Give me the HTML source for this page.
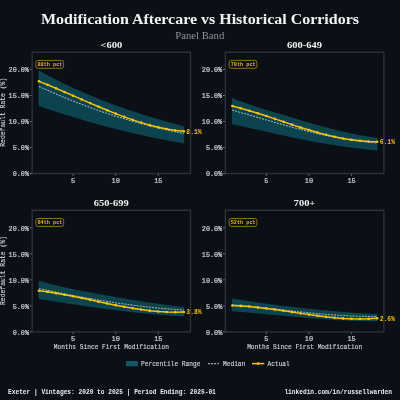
<!DOCTYPE html>
<html><head><meta charset="utf-8"><style>
html,body{margin:0;padding:0;background:#0b0f16;width:400px;height:400px;overflow:hidden}
svg{display:block;will-change:transform}
.mono{font-family:"Liberation Mono",monospace}
.serif{font-family:"Liberation Serif",serif}
</style></head><body>
<svg width="400" height="400" viewBox="0 0 400 400">
<rect width="400" height="400" fill="#0b0f16"/>
<text class="serif" x="200" y="23.75" text-anchor="middle" font-size="14.2" font-weight="bold" fill="#f3f3f1" textLength="318" lengthAdjust="spacingAndGlyphs">Modification Aftercare vs Historical Corridors</text>
<text class="serif" x="199.8" y="38.5" text-anchor="middle" font-size="10" fill="#8f9296" textLength="49" lengthAdjust="spacingAndGlyphs">Panel Band</text>

<text class="serif" x="111.35" y="48.10" text-anchor="middle" font-size="9.2" font-weight="bold" fill="#f3f3f1" textLength="21.7" lengthAdjust="spacingAndGlyphs">&lt;600</text>
<polygon points="39.00,71.00 41.13,72.17 43.26,73.33 45.39,74.47 47.52,75.60 49.65,76.72 51.78,77.83 53.91,78.92 56.04,80.01 58.17,81.08 60.30,82.13 62.43,83.18 64.56,84.21 66.69,85.23 68.82,86.24 70.95,87.24 73.08,88.23 75.21,89.20 77.34,90.17 79.47,91.12 81.60,92.06 83.73,93.00 85.86,93.92 87.99,94.83 90.12,95.73 92.25,96.61 94.38,97.49 96.51,98.36 98.64,99.22 100.77,100.07 102.90,100.91 105.03,101.74 107.16,102.56 109.29,103.37 111.42,104.17 113.55,104.96 115.68,105.74 117.81,106.52 119.94,107.28 122.07,108.04 124.20,108.79 126.33,109.53 128.46,110.26 130.59,110.98 132.72,111.69 134.85,112.40 136.98,113.10 139.11,113.79 141.24,114.47 143.37,115.15 145.50,115.82 147.63,116.48 149.76,117.13 151.89,117.78 154.02,118.42 156.15,119.05 158.28,119.68 160.41,120.30 162.54,120.91 164.67,121.52 166.80,122.12 168.93,122.72 171.06,123.31 173.19,123.89 175.32,124.47 177.45,125.04 179.58,125.61 181.71,126.17 183.84,126.72 183.84,142.94 181.71,142.57 179.58,142.20 177.45,141.82 175.32,141.44 173.19,141.05 171.06,140.66 168.93,140.26 166.80,139.86 164.67,139.45 162.54,139.04 160.41,138.62 158.28,138.19 156.15,137.76 154.02,137.32 151.89,136.88 149.76,136.43 147.63,135.98 145.50,135.52 143.37,135.06 141.24,134.59 139.11,134.11 136.98,133.63 134.85,133.15 132.72,132.66 130.59,132.16 128.46,131.66 126.33,131.15 124.20,130.64 122.07,130.12 119.94,129.59 117.81,129.06 115.68,128.53 113.55,127.99 111.42,127.44 109.29,126.89 107.16,126.33 105.03,125.77 102.90,125.20 100.77,124.63 98.64,124.05 96.51,123.47 94.38,122.87 92.25,122.28 90.12,121.68 87.99,121.07 85.86,120.46 83.73,119.84 81.60,119.22 79.47,118.59 77.34,117.95 75.21,117.31 73.08,116.67 70.95,116.02 68.82,115.36 66.69,114.70 64.56,114.03 62.43,113.36 60.30,112.68 58.17,112.00 56.04,111.31 53.91,110.61 51.78,109.91 49.65,109.20 47.52,108.49 45.39,107.77 43.26,107.05 41.13,106.32 39.00,105.59" fill="#0c434e" stroke="#11535e" stroke-width="0.6"/>
<polyline points="39.00,86.42 41.13,87.40 43.26,88.37 45.39,89.33 47.52,90.28 49.65,91.23 51.78,92.16 53.91,93.09 56.04,94.01 58.17,94.91 60.30,95.81 62.43,96.70 64.56,97.59 66.69,98.46 68.82,99.32 70.95,100.18 73.08,101.03 75.21,101.87 77.34,102.70 79.47,103.52 81.60,104.33 83.73,105.13 85.86,105.93 87.99,106.72 90.12,107.49 92.25,108.26 94.38,109.03 96.51,109.78 98.64,110.52 100.77,111.26 102.90,111.99 105.03,112.70 107.16,113.42 109.29,114.12 111.42,114.81 113.55,115.50 115.68,116.17 117.81,116.84 119.94,117.50 122.07,118.16 124.20,118.80 126.33,119.44 128.46,120.07 130.59,120.69 132.72,121.30 134.85,121.90 136.98,122.50 139.11,123.08 141.24,123.66 143.37,124.23 145.50,124.80 147.63,125.35 149.76,125.90 151.89,126.44 154.02,126.97 156.15,127.49 158.28,128.01 160.41,128.52 162.54,129.02 164.67,129.51 166.80,129.99 168.93,130.47 171.06,130.94 173.19,131.40 175.32,131.85 177.45,132.30 179.58,132.74 181.71,133.17 183.84,133.59" fill="none" stroke="#c9d1d9" stroke-opacity="0.8" stroke-width="1.05" stroke-dasharray="1.9 1.2"/>
<polyline points="39.00,81.36 47.52,84.78 56.04,88.33 64.56,91.98 73.08,95.68 81.60,99.39 90.12,103.08 98.64,106.71 107.16,110.25 115.68,113.65 124.20,116.87 132.72,119.88 141.24,122.64 149.76,125.12 158.28,127.26 166.80,129.05 175.32,130.43 183.84,131.37" fill="none" stroke="#f7c20a" stroke-width="1.5" stroke-linejoin="round"/>
<circle cx="39.00" cy="81.36" r="1.3" fill="#f7c20a"/>
<circle cx="47.52" cy="84.78" r="1.3" fill="#f7c20a"/>
<circle cx="56.04" cy="88.33" r="1.3" fill="#f7c20a"/>
<circle cx="64.56" cy="91.98" r="1.3" fill="#f7c20a"/>
<circle cx="73.08" cy="95.68" r="1.3" fill="#f7c20a"/>
<circle cx="81.60" cy="99.39" r="1.3" fill="#f7c20a"/>
<circle cx="90.12" cy="103.08" r="1.3" fill="#f7c20a"/>
<circle cx="98.64" cy="106.71" r="1.3" fill="#f7c20a"/>
<circle cx="107.16" cy="110.25" r="1.3" fill="#f7c20a"/>
<circle cx="115.68" cy="113.65" r="1.3" fill="#f7c20a"/>
<circle cx="124.20" cy="116.87" r="1.3" fill="#f7c20a"/>
<circle cx="132.72" cy="119.88" r="1.3" fill="#f7c20a"/>
<circle cx="141.24" cy="122.64" r="1.3" fill="#f7c20a"/>
<circle cx="149.76" cy="125.12" r="1.3" fill="#f7c20a"/>
<circle cx="158.28" cy="127.26" r="1.3" fill="#f7c20a"/>
<circle cx="166.80" cy="129.05" r="1.3" fill="#f7c20a"/>
<circle cx="175.32" cy="130.43" r="1.3" fill="#f7c20a"/>
<circle cx="183.84" cy="131.37" r="1.3" fill="#f7c20a"/>
<text class="mono" transform="translate(186.34,133.67) scale(1,1.1)" font-size="6.4" fill="#f7c20a" font-weight="bold">8.1%</text>
<rect x="32.15" y="52.20" width="158.35" height="121.30" fill="none" stroke="#2e3239" stroke-width="1.4"/>
<line x1="29.75" y1="173.50" x2="31.65" y2="173.50" stroke="#7d828b" stroke-width="0.9"/>
<text class="mono" transform="translate(28.95,176.40) scale(1,1.1)" font-size="6.8" fill="#cdd0d4" text-anchor="end" stroke="#cdd0d4" stroke-width="0.2">0.0%</text>
<line x1="29.75" y1="147.47" x2="31.65" y2="147.47" stroke="#7d828b" stroke-width="0.9"/>
<text class="mono" transform="translate(28.95,150.38) scale(1,1.1)" font-size="6.8" fill="#cdd0d4" text-anchor="end" stroke="#cdd0d4" stroke-width="0.2">5.0%</text>
<line x1="29.75" y1="121.45" x2="31.65" y2="121.45" stroke="#7d828b" stroke-width="0.9"/>
<text class="mono" transform="translate(28.95,124.35) scale(1,1.1)" font-size="6.8" fill="#cdd0d4" text-anchor="end" stroke="#cdd0d4" stroke-width="0.2">10.0%</text>
<line x1="29.75" y1="95.42" x2="31.65" y2="95.42" stroke="#7d828b" stroke-width="0.9"/>
<text class="mono" transform="translate(28.95,98.33) scale(1,1.1)" font-size="6.8" fill="#cdd0d4" text-anchor="end" stroke="#cdd0d4" stroke-width="0.2">15.0%</text>
<line x1="29.75" y1="69.40" x2="31.65" y2="69.40" stroke="#7d828b" stroke-width="0.9"/>
<text class="mono" transform="translate(28.95,72.30) scale(1,1.1)" font-size="6.8" fill="#cdd0d4" text-anchor="end" stroke="#cdd0d4" stroke-width="0.2">20.0%</text>
<line x1="73.08" y1="174.00" x2="73.08" y2="175.70" stroke="#7d828b" stroke-width="0.9"/>
<text class="mono" transform="translate(73.08,182.50) scale(1,1.1)" font-size="6.9" fill="#cdd0d4" text-anchor="middle" stroke="#cdd0d4" stroke-width="0.2">5</text>
<line x1="115.68" y1="174.00" x2="115.68" y2="175.70" stroke="#7d828b" stroke-width="0.9"/>
<text class="mono" transform="translate(115.68,182.50) scale(1,1.1)" font-size="6.9" fill="#cdd0d4" text-anchor="middle" stroke="#cdd0d4" stroke-width="0.2">10</text>
<line x1="158.28" y1="174.00" x2="158.28" y2="175.70" stroke="#7d828b" stroke-width="0.9"/>
<text class="mono" transform="translate(158.28,182.50) scale(1,1.1)" font-size="6.9" fill="#cdd0d4" text-anchor="middle" stroke="#cdd0d4" stroke-width="0.2">15</text>
<rect x="35.85" y="60.40" width="27.8" height="7.9" rx="2.1" fill="#0b0f16" stroke="#a88510" stroke-width="0.85"/>
<text class="mono" transform="translate(49.95,66.20) scale(1,1.1)" font-size="5.25" fill="#e8b420" text-anchor="middle" font-weight="bold">88th pct</text>
<text class="mono" transform="translate(5.20,112.25) rotate(-90) scale(1,1.1)" font-size="6.4" fill="#cdd0d4" text-anchor="middle" stroke="#cdd0d4" stroke-width="0.12">Redefault Rate (%)</text>
<text class="serif" x="304.40" y="48.10" text-anchor="middle" font-size="9.2" font-weight="bold" fill="#f3f3f1" textLength="35" lengthAdjust="spacingAndGlyphs">600-649</text>
<polygon points="232.30,98.40 234.43,99.29 236.56,100.15 238.69,100.99 240.82,101.80 242.95,102.60 245.08,103.37 247.21,104.12 249.34,104.85 251.47,105.57 253.60,106.27 255.73,106.96 257.86,107.64 259.99,108.31 262.12,108.97 264.25,109.62 266.38,110.27 268.51,110.91 270.64,111.55 272.77,112.19 274.90,112.83 277.03,113.46 279.16,114.10 281.29,114.73 283.42,115.37 285.55,116.01 287.68,116.65 289.81,117.30 291.94,117.94 294.07,118.58 296.20,119.22 298.33,119.86 300.46,120.50 302.59,121.14 304.72,121.77 306.85,122.40 308.98,123.02 311.11,123.64 313.24,124.25 315.37,124.86 317.50,125.46 319.63,126.06 321.76,126.64 323.89,127.22 326.02,127.79 328.15,128.35 330.28,128.90 332.41,129.45 334.54,129.98 336.67,130.51 338.80,131.02 340.93,131.53 343.06,132.03 345.19,132.51 347.32,132.99 349.45,133.45 351.58,133.90 353.71,134.34 355.84,134.77 357.97,135.19 360.10,135.59 362.23,135.99 364.36,136.37 366.49,136.73 368.62,137.09 370.75,137.43 372.88,137.75 375.01,138.06 377.14,138.36 377.14,150.15 375.01,149.93 372.88,149.71 370.75,149.48 368.62,149.25 366.49,149.01 364.36,148.77 362.23,148.53 360.10,148.28 357.97,148.02 355.84,147.76 353.71,147.49 351.58,147.22 349.45,146.94 347.32,146.66 345.19,146.37 343.06,146.07 340.93,145.77 338.80,145.46 336.67,145.15 334.54,144.82 332.41,144.50 330.28,144.16 328.15,143.82 326.02,143.47 323.89,143.11 321.76,142.75 319.63,142.37 317.50,142.00 315.37,141.61 313.24,141.21 311.11,140.81 308.98,140.40 306.85,139.99 304.72,139.57 302.59,139.14 300.46,138.71 298.33,138.27 296.20,137.82 294.07,137.38 291.94,136.92 289.81,136.47 287.68,136.01 285.55,135.55 283.42,135.08 281.29,134.61 279.16,134.14 277.03,133.67 274.90,133.19 272.77,132.72 270.64,132.24 268.51,131.76 266.38,131.28 264.25,130.80 262.12,130.33 259.99,129.85 257.86,129.37 255.73,128.89 253.60,128.42 251.47,127.95 249.34,127.48 247.21,127.01 245.08,126.54 242.95,126.08 240.82,125.62 238.69,125.16 236.56,124.71 234.43,124.26 232.30,123.82" fill="#0c434e" stroke="#11535e" stroke-width="0.6"/>
<polyline points="232.30,110.11 234.43,110.71 236.56,111.31 238.69,111.92 240.82,112.53 242.95,113.14 245.08,113.75 247.21,114.37 249.34,114.99 251.47,115.60 253.60,116.22 255.73,116.84 257.86,117.46 259.99,118.08 262.12,118.70 264.25,119.32 266.38,119.94 268.51,120.55 270.64,121.17 272.77,121.78 274.90,122.39 277.03,123.00 279.16,123.60 281.29,124.20 283.42,124.80 285.55,125.39 287.68,125.98 289.81,126.57 291.94,127.15 294.07,127.72 296.20,128.29 298.33,128.86 300.46,129.42 302.59,129.97 304.72,130.51 306.85,131.05 308.98,131.58 311.11,132.11 313.24,132.62 315.37,133.13 317.50,133.63 319.63,134.12 321.76,134.60 323.89,135.07 326.02,135.53 328.15,135.98 330.28,136.43 332.41,136.86 334.54,137.28 336.67,137.68 338.80,138.08 340.93,138.46 343.06,138.84 345.19,139.20 347.32,139.54 349.45,139.88 351.58,140.20 353.71,140.50 355.84,140.80 357.97,141.07 360.10,141.34 362.23,141.58 364.36,141.82 366.49,142.03 368.62,142.23 370.75,142.42 372.88,142.59 375.01,142.74 377.14,142.87" fill="none" stroke="#c9d1d9" stroke-opacity="0.8" stroke-width="1.05" stroke-dasharray="1.9 1.2"/>
<polyline points="232.30,106.10 240.82,108.27 249.34,110.69 257.86,113.30 266.38,116.06 274.90,118.90 283.42,121.78 291.94,124.64 300.46,127.42 308.98,130.07 317.50,132.54 326.02,134.77 334.54,136.74 343.06,138.43 351.58,139.80 360.10,140.84 368.62,141.52 377.14,141.81" fill="none" stroke="#f7c20a" stroke-width="1.5" stroke-linejoin="round"/>
<circle cx="232.30" cy="106.10" r="1.3" fill="#f7c20a"/>
<circle cx="240.82" cy="108.27" r="1.3" fill="#f7c20a"/>
<circle cx="249.34" cy="110.69" r="1.3" fill="#f7c20a"/>
<circle cx="257.86" cy="113.30" r="1.3" fill="#f7c20a"/>
<circle cx="266.38" cy="116.06" r="1.3" fill="#f7c20a"/>
<circle cx="274.90" cy="118.90" r="1.3" fill="#f7c20a"/>
<circle cx="283.42" cy="121.78" r="1.3" fill="#f7c20a"/>
<circle cx="291.94" cy="124.64" r="1.3" fill="#f7c20a"/>
<circle cx="300.46" cy="127.42" r="1.3" fill="#f7c20a"/>
<circle cx="308.98" cy="130.07" r="1.3" fill="#f7c20a"/>
<circle cx="317.50" cy="132.54" r="1.3" fill="#f7c20a"/>
<circle cx="326.02" cy="134.77" r="1.3" fill="#f7c20a"/>
<circle cx="334.54" cy="136.74" r="1.3" fill="#f7c20a"/>
<circle cx="343.06" cy="138.43" r="1.3" fill="#f7c20a"/>
<circle cx="351.58" cy="139.80" r="1.3" fill="#f7c20a"/>
<circle cx="360.10" cy="140.84" r="1.3" fill="#f7c20a"/>
<circle cx="368.62" cy="141.52" r="1.3" fill="#f7c20a"/>
<circle cx="377.14" cy="141.81" r="1.3" fill="#f7c20a"/>
<text class="mono" transform="translate(379.64,144.11) scale(1,1.1)" font-size="6.4" fill="#f7c20a" font-weight="bold">6.1%</text>
<rect x="225.40" y="52.20" width="158.50" height="121.30" fill="none" stroke="#2e3239" stroke-width="1.4"/>
<line x1="223.00" y1="173.50" x2="224.90" y2="173.50" stroke="#7d828b" stroke-width="0.9"/>
<text class="mono" transform="translate(222.20,176.40) scale(1,1.1)" font-size="6.8" fill="#cdd0d4" text-anchor="end" stroke="#cdd0d4" stroke-width="0.2">0.0%</text>
<line x1="223.00" y1="147.47" x2="224.90" y2="147.47" stroke="#7d828b" stroke-width="0.9"/>
<text class="mono" transform="translate(222.20,150.38) scale(1,1.1)" font-size="6.8" fill="#cdd0d4" text-anchor="end" stroke="#cdd0d4" stroke-width="0.2">5.0%</text>
<line x1="223.00" y1="121.45" x2="224.90" y2="121.45" stroke="#7d828b" stroke-width="0.9"/>
<text class="mono" transform="translate(222.20,124.35) scale(1,1.1)" font-size="6.8" fill="#cdd0d4" text-anchor="end" stroke="#cdd0d4" stroke-width="0.2">10.0%</text>
<line x1="223.00" y1="95.42" x2="224.90" y2="95.42" stroke="#7d828b" stroke-width="0.9"/>
<text class="mono" transform="translate(222.20,98.33) scale(1,1.1)" font-size="6.8" fill="#cdd0d4" text-anchor="end" stroke="#cdd0d4" stroke-width="0.2">15.0%</text>
<line x1="223.00" y1="69.40" x2="224.90" y2="69.40" stroke="#7d828b" stroke-width="0.9"/>
<text class="mono" transform="translate(222.20,72.30) scale(1,1.1)" font-size="6.8" fill="#cdd0d4" text-anchor="end" stroke="#cdd0d4" stroke-width="0.2">20.0%</text>
<line x1="266.38" y1="174.00" x2="266.38" y2="175.70" stroke="#7d828b" stroke-width="0.9"/>
<text class="mono" transform="translate(266.38,182.50) scale(1,1.1)" font-size="6.9" fill="#cdd0d4" text-anchor="middle" stroke="#cdd0d4" stroke-width="0.2">5</text>
<line x1="308.98" y1="174.00" x2="308.98" y2="175.70" stroke="#7d828b" stroke-width="0.9"/>
<text class="mono" transform="translate(308.98,182.50) scale(1,1.1)" font-size="6.9" fill="#cdd0d4" text-anchor="middle" stroke="#cdd0d4" stroke-width="0.2">10</text>
<line x1="351.58" y1="174.00" x2="351.58" y2="175.70" stroke="#7d828b" stroke-width="0.9"/>
<text class="mono" transform="translate(351.58,182.50) scale(1,1.1)" font-size="6.9" fill="#cdd0d4" text-anchor="middle" stroke="#cdd0d4" stroke-width="0.2">15</text>
<rect x="229.10" y="60.40" width="27.8" height="7.9" rx="2.1" fill="#0b0f16" stroke="#a88510" stroke-width="0.85"/>
<text class="mono" transform="translate(243.20,66.20) scale(1,1.1)" font-size="5.25" fill="#e8b420" text-anchor="middle" font-weight="bold">79th pct</text>
<text class="serif" x="111.25" y="206.20" text-anchor="middle" font-size="9.2" font-weight="bold" fill="#f3f3f1" textLength="34.9" lengthAdjust="spacingAndGlyphs">650-699</text>
<polygon points="39.00,281.12 41.13,281.76 43.26,282.38 45.39,282.98 47.52,283.56 49.65,284.13 51.78,284.69 53.91,285.22 56.04,285.75 58.17,286.26 60.30,286.76 62.43,287.25 64.56,287.72 66.69,288.19 68.82,288.65 70.95,289.09 73.08,289.53 75.21,289.97 77.34,290.39 79.47,290.81 81.60,291.23 83.73,291.64 85.86,292.04 87.99,292.44 90.12,292.85 92.25,293.24 94.38,293.64 96.51,294.04 98.64,294.43 100.77,294.82 102.90,295.21 105.03,295.60 107.16,295.98 109.29,296.36 111.42,296.74 113.55,297.12 115.68,297.49 117.81,297.86 119.94,298.23 122.07,298.60 124.20,298.96 126.33,299.32 128.46,299.67 130.59,300.02 132.72,300.37 134.85,300.72 136.98,301.06 139.11,301.40 141.24,301.73 143.37,302.06 145.50,302.38 147.63,302.71 149.76,303.02 151.89,303.33 154.02,303.64 156.15,303.95 158.28,304.24 160.41,304.54 162.54,304.83 164.67,305.11 166.80,305.39 168.93,305.67 171.06,305.94 173.19,306.20 175.32,306.46 177.45,306.71 179.58,306.96 181.71,307.20 183.84,307.44 183.84,316.01 181.71,315.90 179.58,315.78 177.45,315.65 175.32,315.51 173.19,315.38 171.06,315.23 168.93,315.08 166.80,314.93 164.67,314.77 162.54,314.60 160.41,314.43 158.28,314.25 156.15,314.07 154.02,313.89 151.89,313.70 149.76,313.50 147.63,313.30 145.50,313.10 143.37,312.89 141.24,312.68 139.11,312.46 136.98,312.24 134.85,312.01 132.72,311.78 130.59,311.54 128.46,311.31 126.33,311.06 124.20,310.82 122.07,310.57 119.94,310.31 117.81,310.05 115.68,309.79 113.55,309.53 111.42,309.26 109.29,308.99 107.16,308.71 105.03,308.43 102.90,308.15 100.77,307.86 98.64,307.58 96.51,307.28 94.38,306.99 92.25,306.69 90.12,306.39 87.99,306.09 85.86,305.78 83.73,305.48 81.60,305.17 79.47,304.85 77.34,304.54 75.21,304.22 73.08,303.90 70.95,303.58 68.82,303.25 66.69,302.92 64.56,302.60 62.43,302.26 60.30,301.93 58.17,301.60 56.04,301.26 53.91,300.92 51.78,300.59 49.65,300.24 47.52,299.90 45.39,299.56 43.26,299.21 41.13,298.87 39.00,298.52" fill="#0c434e" stroke="#11535e" stroke-width="0.6"/>
<polyline points="39.00,288.70 41.13,289.14 43.26,289.58 45.39,290.01 47.52,290.45 49.65,290.88 51.78,291.31 53.91,291.74 56.04,292.17 58.17,292.59 60.30,293.01 62.43,293.43 64.56,293.85 66.69,294.26 68.82,294.67 70.95,295.08 73.08,295.48 75.21,295.88 77.34,296.28 79.47,296.67 81.60,297.07 83.73,297.45 85.86,297.84 87.99,298.22 90.12,298.59 92.25,298.96 94.38,299.33 96.51,299.70 98.64,300.06 100.77,300.41 102.90,300.76 105.03,301.11 107.16,301.45 109.29,301.79 111.42,302.12 113.55,302.45 115.68,302.77 117.81,303.09 119.94,303.40 122.07,303.71 124.20,304.01 126.33,304.31 128.46,304.60 130.59,304.89 132.72,305.17 134.85,305.45 136.98,305.71 139.11,305.98 141.24,306.23 143.37,306.49 145.50,306.73 147.63,306.97 149.76,307.20 151.89,307.43 154.02,307.65 156.15,307.86 158.28,308.07 160.41,308.27 162.54,308.46 164.67,308.64 166.80,308.82 168.93,308.99 171.06,309.16 173.19,309.31 175.32,309.46 177.45,309.60 179.58,309.74 181.71,309.86 183.84,309.98" fill="none" stroke="#c9d1d9" stroke-opacity="0.8" stroke-width="1.05" stroke-dasharray="1.9 1.2"/>
<polyline points="39.00,290.75 47.52,291.86 56.04,293.19 64.56,294.69 73.08,296.32 81.60,298.06 90.12,299.85 98.64,301.66 107.16,303.44 115.68,305.16 124.20,306.79 132.72,308.27 141.24,309.56 149.76,310.64 158.28,311.46 166.80,311.98 175.32,312.15 183.84,311.95" fill="none" stroke="#f7c20a" stroke-width="1.5" stroke-linejoin="round"/>
<circle cx="39.00" cy="290.75" r="1.3" fill="#f7c20a"/>
<circle cx="47.52" cy="291.86" r="1.3" fill="#f7c20a"/>
<circle cx="56.04" cy="293.19" r="1.3" fill="#f7c20a"/>
<circle cx="64.56" cy="294.69" r="1.3" fill="#f7c20a"/>
<circle cx="73.08" cy="296.32" r="1.3" fill="#f7c20a"/>
<circle cx="81.60" cy="298.06" r="1.3" fill="#f7c20a"/>
<circle cx="90.12" cy="299.85" r="1.3" fill="#f7c20a"/>
<circle cx="98.64" cy="301.66" r="1.3" fill="#f7c20a"/>
<circle cx="107.16" cy="303.44" r="1.3" fill="#f7c20a"/>
<circle cx="115.68" cy="305.16" r="1.3" fill="#f7c20a"/>
<circle cx="124.20" cy="306.79" r="1.3" fill="#f7c20a"/>
<circle cx="132.72" cy="308.27" r="1.3" fill="#f7c20a"/>
<circle cx="141.24" cy="309.56" r="1.3" fill="#f7c20a"/>
<circle cx="149.76" cy="310.64" r="1.3" fill="#f7c20a"/>
<circle cx="158.28" cy="311.46" r="1.3" fill="#f7c20a"/>
<circle cx="166.80" cy="311.98" r="1.3" fill="#f7c20a"/>
<circle cx="175.32" cy="312.15" r="1.3" fill="#f7c20a"/>
<circle cx="183.84" cy="311.95" r="1.3" fill="#f7c20a"/>
<text class="mono" transform="translate(186.34,314.25) scale(1,1.1)" font-size="6.4" fill="#f7c20a" font-weight="bold">3.8%</text>
<rect x="32.15" y="210.30" width="158.35" height="121.60" fill="none" stroke="#2e3239" stroke-width="1.4"/>
<line x1="29.75" y1="331.90" x2="31.65" y2="331.90" stroke="#7d828b" stroke-width="0.9"/>
<text class="mono" transform="translate(28.95,334.80) scale(1,1.1)" font-size="6.8" fill="#cdd0d4" text-anchor="end" stroke="#cdd0d4" stroke-width="0.2">0.0%</text>
<line x1="29.75" y1="305.88" x2="31.65" y2="305.88" stroke="#7d828b" stroke-width="0.9"/>
<text class="mono" transform="translate(28.95,308.77) scale(1,1.1)" font-size="6.8" fill="#cdd0d4" text-anchor="end" stroke="#cdd0d4" stroke-width="0.2">5.0%</text>
<line x1="29.75" y1="279.85" x2="31.65" y2="279.85" stroke="#7d828b" stroke-width="0.9"/>
<text class="mono" transform="translate(28.95,282.75) scale(1,1.1)" font-size="6.8" fill="#cdd0d4" text-anchor="end" stroke="#cdd0d4" stroke-width="0.2">10.0%</text>
<line x1="29.75" y1="253.82" x2="31.65" y2="253.82" stroke="#7d828b" stroke-width="0.9"/>
<text class="mono" transform="translate(28.95,256.72) scale(1,1.1)" font-size="6.8" fill="#cdd0d4" text-anchor="end" stroke="#cdd0d4" stroke-width="0.2">15.0%</text>
<line x1="29.75" y1="227.80" x2="31.65" y2="227.80" stroke="#7d828b" stroke-width="0.9"/>
<text class="mono" transform="translate(28.95,230.70) scale(1,1.1)" font-size="6.8" fill="#cdd0d4" text-anchor="end" stroke="#cdd0d4" stroke-width="0.2">20.0%</text>
<line x1="73.08" y1="332.40" x2="73.08" y2="334.10" stroke="#7d828b" stroke-width="0.9"/>
<text class="mono" transform="translate(73.08,340.90) scale(1,1.1)" font-size="6.9" fill="#cdd0d4" text-anchor="middle" stroke="#cdd0d4" stroke-width="0.2">5</text>
<line x1="115.68" y1="332.40" x2="115.68" y2="334.10" stroke="#7d828b" stroke-width="0.9"/>
<text class="mono" transform="translate(115.68,340.90) scale(1,1.1)" font-size="6.9" fill="#cdd0d4" text-anchor="middle" stroke="#cdd0d4" stroke-width="0.2">10</text>
<line x1="158.28" y1="332.40" x2="158.28" y2="334.10" stroke="#7d828b" stroke-width="0.9"/>
<text class="mono" transform="translate(158.28,340.90) scale(1,1.1)" font-size="6.9" fill="#cdd0d4" text-anchor="middle" stroke="#cdd0d4" stroke-width="0.2">15</text>
<rect x="35.85" y="218.50" width="27.8" height="7.9" rx="2.1" fill="#0b0f16" stroke="#a88510" stroke-width="0.85"/>
<text class="mono" transform="translate(49.95,224.30) scale(1,1.1)" font-size="5.25" fill="#e8b420" text-anchor="middle" font-weight="bold">64th pct</text>
<text class="mono" transform="translate(5.20,270.50) rotate(-90) scale(1,1.1)" font-size="6.4" fill="#cdd0d4" text-anchor="middle" stroke="#cdd0d4" stroke-width="0.12">Redefault Rate (%)</text>
<text class="mono" transform="translate(111.33,348.80) scale(1,1.1)" font-size="6.2" fill="#cdd0d4" text-anchor="middle" stroke="#cdd0d4" stroke-width="0.15">Months Since First Modification</text>
<text class="serif" x="304.50" y="206.20" text-anchor="middle" font-size="9.2" font-weight="bold" fill="#f3f3f1" textLength="21.5" lengthAdjust="spacingAndGlyphs">700+</text>
<polygon points="232.30,299.03 234.43,299.37 236.56,299.71 238.69,300.04 240.82,300.37 242.95,300.70 245.08,301.02 247.21,301.34 249.34,301.66 251.47,301.97 253.60,302.28 255.73,302.59 257.86,302.89 259.99,303.19 262.12,303.48 264.25,303.77 266.38,304.06 268.51,304.35 270.64,304.63 272.77,304.90 274.90,305.18 277.03,305.45 279.16,305.72 281.29,305.98 283.42,306.24 285.55,306.50 287.68,306.76 289.81,307.01 291.94,307.26 294.07,307.50 296.20,307.75 298.33,307.98 300.46,308.22 302.59,308.45 304.72,308.68 306.85,308.91 308.98,309.13 311.11,309.35 313.24,309.57 315.37,309.79 317.50,310.00 319.63,310.20 321.76,310.41 323.89,310.61 326.02,310.81 328.15,311.01 330.28,311.20 332.41,311.39 334.54,311.58 336.67,311.77 338.80,311.95 340.93,312.13 343.06,312.30 345.19,312.48 347.32,312.65 349.45,312.82 351.58,312.98 353.71,313.15 355.84,313.31 357.97,313.46 360.10,313.62 362.23,313.77 364.36,313.92 366.49,314.07 368.62,314.21 370.75,314.35 372.88,314.49 375.01,314.63 377.14,314.76 377.14,321.08 375.01,321.06 372.88,321.03 370.75,321.00 368.62,320.96 366.49,320.92 364.36,320.86 362.23,320.80 360.10,320.74 357.97,320.66 355.84,320.58 353.71,320.50 351.58,320.41 349.45,320.31 347.32,320.20 345.19,320.10 343.06,319.98 340.93,319.86 338.80,319.74 336.67,319.61 334.54,319.48 332.41,319.34 330.28,319.19 328.15,319.05 326.02,318.90 323.89,318.74 321.76,318.59 319.63,318.42 317.50,318.26 315.37,318.09 313.24,317.92 311.11,317.75 308.98,317.57 306.85,317.39 304.72,317.21 302.59,317.02 300.46,316.84 298.33,316.65 296.20,316.46 294.07,316.27 291.94,316.08 289.81,315.89 287.68,315.69 285.55,315.50 283.42,315.30 281.29,315.11 279.16,314.91 277.03,314.71 274.90,314.52 272.77,314.32 270.64,314.13 268.51,313.93 266.38,313.73 264.25,313.54 262.12,313.35 259.99,313.16 257.86,312.96 255.73,312.78 253.60,312.59 251.47,312.40 249.34,312.22 247.21,312.04 245.08,311.86 242.95,311.68 240.82,311.51 238.69,311.34 236.56,311.17 234.43,311.00 232.30,310.84" fill="#0c434e" stroke="#11535e" stroke-width="0.6"/>
<polyline points="232.30,304.83 234.43,305.00 236.56,305.18 238.69,305.37 240.82,305.56 242.95,305.75 245.08,305.95 247.21,306.16 249.34,306.37 251.47,306.58 253.60,306.79 255.73,307.01 257.86,307.23 259.99,307.46 262.12,307.68 264.25,307.91 266.38,308.14 268.51,308.38 270.64,308.61 272.77,308.85 274.90,309.08 277.03,309.32 279.16,309.56 281.29,309.79 283.42,310.03 285.55,310.27 287.68,310.50 289.81,310.74 291.94,310.97 294.07,311.21 296.20,311.44 298.33,311.67 300.46,311.89 302.59,312.12 304.72,312.34 306.85,312.56 308.98,312.78 311.11,312.99 313.24,313.20 315.37,313.40 317.50,313.60 319.63,313.79 321.76,313.99 323.89,314.17 326.02,314.35 328.15,314.52 330.28,314.69 332.41,314.86 334.54,315.01 336.67,315.16 338.80,315.30 340.93,315.44 343.06,315.57 345.19,315.69 347.32,315.80 349.45,315.90 351.58,316.00 353.71,316.08 355.84,316.16 357.97,316.23 360.10,316.29 362.23,316.34 364.36,316.38 366.49,316.40 368.62,316.42 370.75,316.43 372.88,316.42 375.01,316.41 377.14,316.38" fill="none" stroke="#c9d1d9" stroke-opacity="0.8" stroke-width="1.05" stroke-dasharray="1.9 1.2"/>
<polyline points="232.30,305.47 240.82,305.88 249.34,306.54 257.86,307.41 266.38,308.43 274.90,309.58 283.42,310.82 291.94,312.09 300.46,313.37 308.98,314.61 317.50,315.78 326.02,316.82 334.54,317.71 343.06,318.40 351.58,318.85 360.10,319.02 368.62,318.87 377.14,318.36" fill="none" stroke="#f7c20a" stroke-width="1.5" stroke-linejoin="round"/>
<circle cx="232.30" cy="305.47" r="1.3" fill="#f7c20a"/>
<circle cx="240.82" cy="305.88" r="1.3" fill="#f7c20a"/>
<circle cx="249.34" cy="306.54" r="1.3" fill="#f7c20a"/>
<circle cx="257.86" cy="307.41" r="1.3" fill="#f7c20a"/>
<circle cx="266.38" cy="308.43" r="1.3" fill="#f7c20a"/>
<circle cx="274.90" cy="309.58" r="1.3" fill="#f7c20a"/>
<circle cx="283.42" cy="310.82" r="1.3" fill="#f7c20a"/>
<circle cx="291.94" cy="312.09" r="1.3" fill="#f7c20a"/>
<circle cx="300.46" cy="313.37" r="1.3" fill="#f7c20a"/>
<circle cx="308.98" cy="314.61" r="1.3" fill="#f7c20a"/>
<circle cx="317.50" cy="315.78" r="1.3" fill="#f7c20a"/>
<circle cx="326.02" cy="316.82" r="1.3" fill="#f7c20a"/>
<circle cx="334.54" cy="317.71" r="1.3" fill="#f7c20a"/>
<circle cx="343.06" cy="318.40" r="1.3" fill="#f7c20a"/>
<circle cx="351.58" cy="318.85" r="1.3" fill="#f7c20a"/>
<circle cx="360.10" cy="319.02" r="1.3" fill="#f7c20a"/>
<circle cx="368.62" cy="318.87" r="1.3" fill="#f7c20a"/>
<circle cx="377.14" cy="318.36" r="1.3" fill="#f7c20a"/>
<text class="mono" transform="translate(379.64,320.66) scale(1,1.1)" font-size="6.4" fill="#f7c20a" font-weight="bold">2.6%</text>
<rect x="225.40" y="210.30" width="158.50" height="121.60" fill="none" stroke="#2e3239" stroke-width="1.4"/>
<line x1="223.00" y1="331.90" x2="224.90" y2="331.90" stroke="#7d828b" stroke-width="0.9"/>
<text class="mono" transform="translate(222.20,334.80) scale(1,1.1)" font-size="6.8" fill="#cdd0d4" text-anchor="end" stroke="#cdd0d4" stroke-width="0.2">0.0%</text>
<line x1="223.00" y1="305.88" x2="224.90" y2="305.88" stroke="#7d828b" stroke-width="0.9"/>
<text class="mono" transform="translate(222.20,308.77) scale(1,1.1)" font-size="6.8" fill="#cdd0d4" text-anchor="end" stroke="#cdd0d4" stroke-width="0.2">5.0%</text>
<line x1="223.00" y1="279.85" x2="224.90" y2="279.85" stroke="#7d828b" stroke-width="0.9"/>
<text class="mono" transform="translate(222.20,282.75) scale(1,1.1)" font-size="6.8" fill="#cdd0d4" text-anchor="end" stroke="#cdd0d4" stroke-width="0.2">10.0%</text>
<line x1="223.00" y1="253.82" x2="224.90" y2="253.82" stroke="#7d828b" stroke-width="0.9"/>
<text class="mono" transform="translate(222.20,256.72) scale(1,1.1)" font-size="6.8" fill="#cdd0d4" text-anchor="end" stroke="#cdd0d4" stroke-width="0.2">15.0%</text>
<line x1="223.00" y1="227.80" x2="224.90" y2="227.80" stroke="#7d828b" stroke-width="0.9"/>
<text class="mono" transform="translate(222.20,230.70) scale(1,1.1)" font-size="6.8" fill="#cdd0d4" text-anchor="end" stroke="#cdd0d4" stroke-width="0.2">20.0%</text>
<line x1="266.38" y1="332.40" x2="266.38" y2="334.10" stroke="#7d828b" stroke-width="0.9"/>
<text class="mono" transform="translate(266.38,340.90) scale(1,1.1)" font-size="6.9" fill="#cdd0d4" text-anchor="middle" stroke="#cdd0d4" stroke-width="0.2">5</text>
<line x1="308.98" y1="332.40" x2="308.98" y2="334.10" stroke="#7d828b" stroke-width="0.9"/>
<text class="mono" transform="translate(308.98,340.90) scale(1,1.1)" font-size="6.9" fill="#cdd0d4" text-anchor="middle" stroke="#cdd0d4" stroke-width="0.2">10</text>
<line x1="351.58" y1="332.40" x2="351.58" y2="334.10" stroke="#7d828b" stroke-width="0.9"/>
<text class="mono" transform="translate(351.58,340.90) scale(1,1.1)" font-size="6.9" fill="#cdd0d4" text-anchor="middle" stroke="#cdd0d4" stroke-width="0.2">15</text>
<rect x="229.10" y="218.50" width="27.8" height="7.9" rx="2.1" fill="#0b0f16" stroke="#a88510" stroke-width="0.85"/>
<text class="mono" transform="translate(243.20,224.30) scale(1,1.1)" font-size="5.25" fill="#e8b420" text-anchor="middle" font-weight="bold">52th pct</text>
<text class="mono" transform="translate(304.65,348.80) scale(1,1.1)" font-size="6.2" fill="#cdd0d4" text-anchor="middle" stroke="#cdd0d4" stroke-width="0.15">Months Since First Modification</text>
<rect x="126.2" y="361.3" width="11.2" height="4.6" fill="#135763" stroke="#1a6570" stroke-width="0.6"/>
<text class="mono" transform="translate(141.00,365.90) scale(1,1.1)" font-size="6.2" fill="#cdd0d4" stroke="#cdd0d4" stroke-width="0.15">Percentile Range</text>
<line x1="208" y1="363.6" x2="219" y2="363.6" stroke="#c9d1d9" stroke-opacity="0.8" stroke-width="1.05" stroke-dasharray="1.9 1.2"/>
<text class="mono" transform="translate(223.00,365.90) scale(1,1.1)" font-size="6.2" fill="#cdd0d4" stroke="#cdd0d4" stroke-width="0.15">Median</text>
<line x1="252" y1="363.6" x2="264.3" y2="363.6" stroke="#f7c20a" stroke-width="1.5"/>
<circle cx="258.1" cy="363.6" r="1.3" fill="#f7c20a"/>
<text class="mono" transform="translate(267.50,365.90) scale(1,1.1)" font-size="6.2" fill="#cdd0d4" stroke="#cdd0d4" stroke-width="0.15">Actual</text>
<text class="mono" transform="translate(8.00,393.60) scale(1,1.1)" font-size="6.2" fill="#e6edf3" font-weight="bold">Exeter | Vintages: 2020 to 2025 | Period Ending: 2026-01</text>
<text class="mono" transform="translate(392.00,393.60) scale(1,1.1)" font-size="6.2" fill="#e6edf3" text-anchor="end" font-weight="bold">linkedin.com/in/russellwarden</text>
</svg></body></html>
